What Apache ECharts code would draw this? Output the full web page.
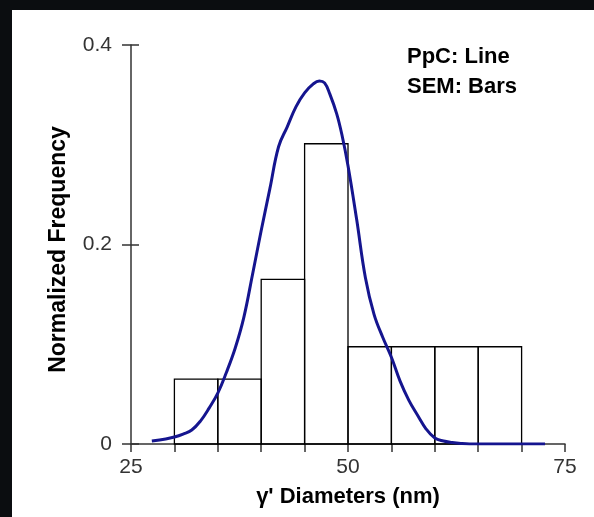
<!DOCTYPE html>
<html>
<head>
<meta charset="utf-8">
<title>Gamma prime diameters</title>
<script src="https://cdn.jsdelivr.net/npm/echarts@6/dist/echarts.min.js"></script>
<style>
  html, body { margin: 0; padding: 0; background: #0b0d10; }
  #chart { position: absolute; left: 12px; top: 10px; width: 582px; height: 507px; background: #fff; }
</style>
</head>
<body>
<div id="chart"></div>
<script>
// SEM histogram bins (start of each 5 nm bin) and normalized frequency
const binStart = [30, 35, 40, 45, 50, 55, 60, 65];
const binWidth = 5;
const semFreq = [0.065, 0.065, 0.165, 0.301, 0.0975, 0.0975, 0.0975, 0.0975];

// PpC curve
const ppcX = [27.4, 29, 30, 31, 32, 33, 34, 35, 36, 37, 38, 39, 40, 41, 42, 43, 44, 45, 46, 46.7, 47.3, 47.9, 48.7, 49.3, 50, 51, 52, 53, 54, 55, 56, 57, 58, 59, 60, 61, 62, 63, 64, 66, 72.7];
const ppcY = [0.003, 0.005, 0.007, 0.010, 0.014, 0.023, 0.036, 0.051, 0.072, 0.096, 0.127, 0.170, 0.214, 0.256, 0.298, 0.318, 0.338, 0.352, 0.361, 0.364, 0.362, 0.351, 0.331, 0.31, 0.279, 0.225, 0.167, 0.13, 0.107, 0.087, 0.063, 0.044, 0.029, 0.015, 0.006, 0.003, 0.0015, 0.0005, 0, 0, 0];

const xTicks = [25, 50, 75];
const yTicks = [0, 0.2, 0.4];

const font = "'Liberation Sans', Arial, sans-serif";
const axisColor = '#333';

const chart = echarts.init(document.getElementById('chart'));

const option = {
  animation: false,
  title: {
    text: 'PpC: Line\nSEM: Bars',
    left: 395,
    top: 32,
    padding: 0,
    textStyle: { fontFamily: font, fontSize: 22, fontWeight: 'bold', color: '#000', lineHeight: 30 }
  },
  grid: { left: 119, right: 29, top: 35, bottom: 73 },
  xAxis: {
    type: 'value',
    min: 25,
    max: 75,
    interval: 5,
    name: "γ' Diameters (nm)",
    nameLocation: 'middle',
    nameGap: 42,
    nameTextStyle: { fontFamily: font, fontSize: 22, fontWeight: 'bold', color: '#000' },
    splitLine: { show: false },
    axisLine: { lineStyle: { color: axisColor, width: 1.5 } },
    axisTick: { length: 8, lineStyle: { color: axisColor, width: 1.5 } },
    axisLabel: {
      margin: 13,
      fontFamily: font,
      fontSize: 21,
      color: '#333',
      formatter: v => xTicks.includes(v) ? String(v) : ''
    }
  },
  yAxis: [
    {
      type: 'value',
      min: 0,
      max: 0.4,
      interval: 0.2,
      name: 'Normalized Frequency',
      nameLocation: 'middle',
      nameGap: 61,
      nameTextStyle: { fontFamily: font, fontSize: 23, fontWeight: 'bold', color: '#000', padding: [0, 10, 0, 0] },
      splitLine: { show: false },
      axisLine: { show: true, lineStyle: { color: axisColor, width: 1.5 } },
      axisTick: { show: true, length: 9, lineStyle: { color: axisColor, width: 1.5 } },
      axisLabel: {
        margin: 19,
        fontFamily: font,
        fontSize: 21,
        color: '#333',
        formatter: v => yTicks.includes(+v.toFixed(1)) ? String(+v.toFixed(1)) : ''
      }
    },
    {
      // inner half of the crossing ticks
      type: 'value',
      position: 'left',
      min: 0,
      max: 0.4,
      interval: 0.2,
      splitLine: { show: false },
      axisLine: { show: false },
      axisTick: { show: true, inside: true, length: 8, lineStyle: { color: axisColor, width: 1.5 } },
      axisLabel: { show: false }
    }
  ],
  series: [
    {
      name: 'SEM',
      type: 'custom',
      data: binStart.map((s, i) => [s, semFreq[i]]),
      renderItem: (params, api) => {
        const p0 = api.coord([api.value(0), 0]);
        const p1 = api.coord([api.value(0) + binWidth, api.value(1)]);
        return {
          type: 'rect',
          shape: { x: p0[0], y: p1[1], width: p1[0] - p0[0], height: p0[1] - p1[1] },
          style: { fill: 'rgba(255,255,255,0)', stroke: '#000', lineWidth: 1.3 }
        };
      },
      z: 2
    },
    {
      name: 'PpC',
      type: 'line',
      data: ppcX.map((x, i) => [x, ppcY[i]]),
      smooth: 0.4,
      showSymbol: false,
      lineStyle: { color: '#15158f', width: 3 },
      z: 3
    }
  ]
};

chart.setOption(option);
</script>
</body>
</html>
